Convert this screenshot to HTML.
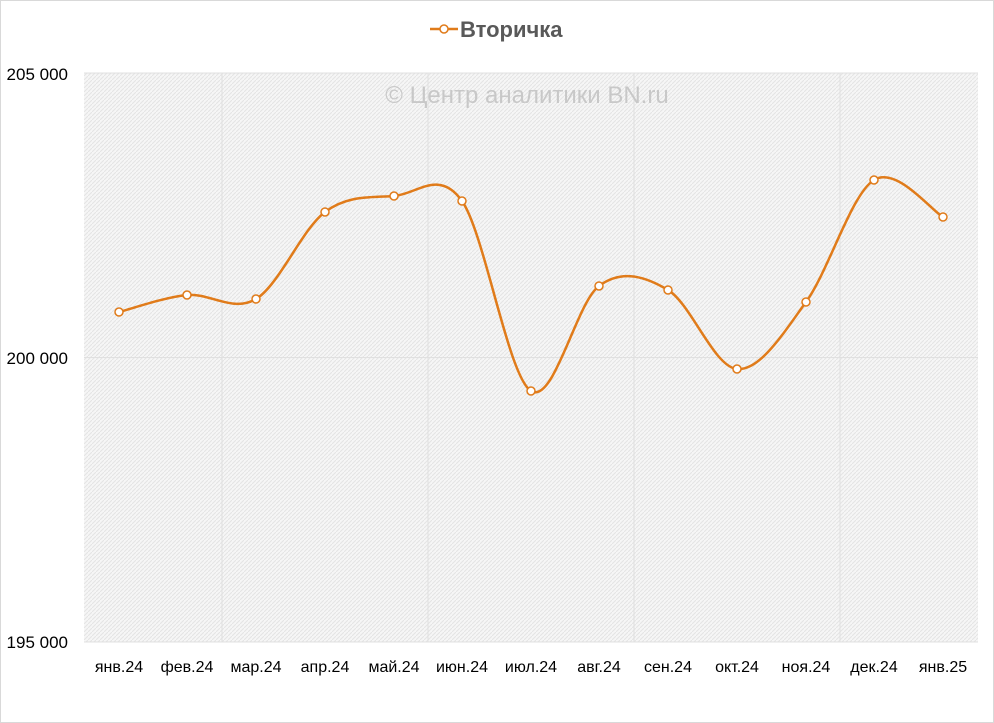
<!DOCTYPE html><html><head><meta charset="utf-8"><style>
body{margin:0;background:#fff;}
svg{display:block;font-family:"Liberation Sans","DejaVu Sans",sans-serif;}
</style></head><body>
<svg width="994" height="723" viewBox="0 0 994 723">
<defs><pattern id="h" width="4" height="4" patternUnits="userSpaceOnUse"><rect width="4" height="4" fill="#f6f6f6"/><path d="M0 4L4 0" stroke="#e4e4e4" stroke-width="1"/></pattern></defs>
<rect x="0.5" y="0.5" width="993" height="722" fill="#fff" stroke="#d9d9d9"/>
<rect x="84" y="73" width="894" height="569" fill="url(#h)"/>
<g stroke="#e0e0e0" stroke-width="1">
<line x1="84" y1="73" x2="978" y2="73"/><line x1="84" y1="357.5" x2="978" y2="357.5"/><line x1="84" y1="642" x2="978" y2="642"/>
<line x1="222" y1="73" x2="222" y2="642"/><line x1="428" y1="73" x2="428" y2="642"/><line x1="634" y1="73" x2="634" y2="642"/><line x1="840" y1="73" x2="840" y2="642"/>
</g>
<text x="527" y="103" font-size="24" fill="#c8c8c8" text-anchor="middle">© Центр аналитики BN.ru</text>
<g font-size="17" fill="#000" text-anchor="end">
<text x="68" y="80">205 000</text><text x="68" y="364">200 000</text><text x="68" y="648">195 000</text></g>
<g font-size="16" fill="#000" text-anchor="middle">
<text x="119" y="672">янв.24</text><text x="187" y="672">фев.24</text><text x="256" y="672">мар.24</text><text x="325" y="672">апр.24</text><text x="394" y="672">май.24</text><text x="462" y="672">июн.24</text><text x="531" y="672">июл.24</text><text x="599" y="672">авг.24</text><text x="668" y="672">сен.24</text><text x="737" y="672">окт.24</text><text x="806" y="672">ноя.24</text><text x="874" y="672">дек.24</text><text x="943" y="672">янв.25</text></g>
<line x1="430" y1="29" x2="458" y2="29" stroke="#e07b1a" stroke-width="2.5"/><circle cx="444" cy="29" r="4" fill="#fff" stroke="#e07b1a" stroke-width="1.5"/>
<text x="460" y="37" font-size="22" font-weight="bold" fill="#595959">Вторичка</text>
<path fill="none" stroke="#e07b1a" stroke-width="2.5" d="M119,312 C130.3,309.2 164.2,297.2 187,295 C209.8,292.8 233,312.8 256,299 C279,285.2 302,229.2 325,212 C348,194.8 371.2,197.8 394,196 C416.8,194.2 439.2,168.5 462,201 C484.8,233.5 508.2,376.8 531,391 C553.8,405.2 576.2,302.8 599,286 C621.8,269.2 645,276.2 668,290 C691,303.8 714,367 737,369 C760,371 783.2,333.5 806,302 C828.8,270.5 851.2,194.2 874,180 C896.8,165.8 931.5,210.8 943,217"/>
<g fill="#fff" stroke="#e07b1a" stroke-width="1.5">
<circle cx="119" cy="312" r="4"/><circle cx="187" cy="295" r="4"/><circle cx="256" cy="299" r="4"/><circle cx="325" cy="212" r="4"/><circle cx="394" cy="196" r="4"/><circle cx="462" cy="201" r="4"/><circle cx="531" cy="391" r="4"/><circle cx="599" cy="286" r="4"/><circle cx="668" cy="290" r="4"/><circle cx="737" cy="369" r="4"/><circle cx="806" cy="302" r="4"/><circle cx="874" cy="180" r="4"/><circle cx="943" cy="217" r="4"/>
</g>
</svg></body></html>
